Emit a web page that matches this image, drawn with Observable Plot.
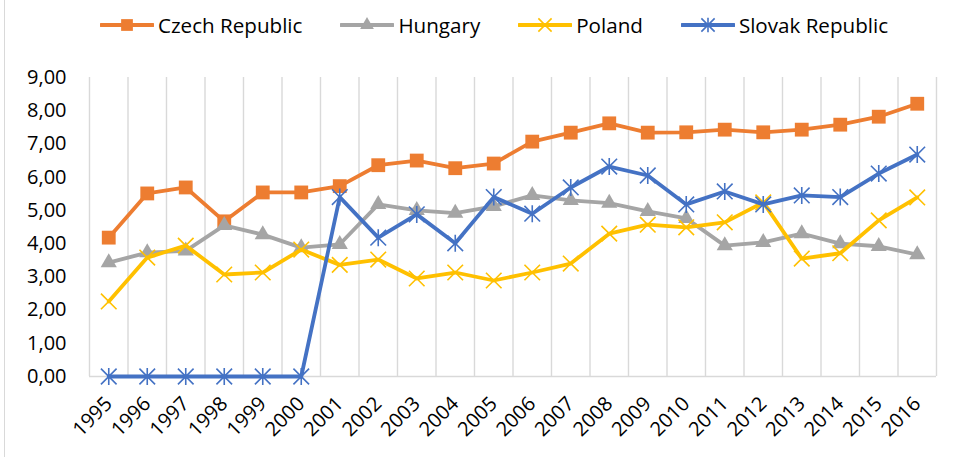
<!DOCTYPE html>
<html>
<head>
<meta charset="utf-8">
<script src="https://cdn.jsdelivr.net/npm/d3@7"></script>
<script src="https://cdn.jsdelivr.net/npm/@observablehq/plot@0.6"></script>
<style>
  html, body { margin: 0; padding: 0; background: #fff; }
  #wrap { position: relative; width: 955px; height: 457px; overflow: hidden; font-family: "Open Sans", sans-serif; }
  #frame { position: absolute; left: 4px; top: 0; width: 1px; height: 457px; background: #D9D9D9; }
  #legend { height: 50px; display: flex; align-items: center; padding-left: 100px; box-sizing: border-box; font-size: 20.6px; color: #000; }
  .item { display: flex; align-items: center; margin-right: 38px; }
  .item svg { margin-right: 4px; }
</style>
</head>
<body>
<div id="wrap">
  <div id="frame"></div>
  <div id="legend"></div>
  <div id="chart"></div>
</div>
<script>
const years = [1995, 1996, 1997, 1998, 1999, 2000, 2001, 2002, 2003, 2004, 2005, 2006, 2007, 2008, 2009, 2010, 2011, 2012, 2013, 2014, 2015, 2016];
const czech   = [4.18, 5.51, 5.69, 4.67, 5.54, 5.54, 5.73, 6.36, 6.50, 6.27, 6.41, 7.07, 7.34, 7.62, 7.34, 7.35, 7.43, 7.35, 7.43, 7.58, 7.82, 8.21];
const hungary = [3.43, 3.73, 3.78, 4.55, 4.27, 3.88, 3.98, 5.18, 5.00, 4.92, 5.12, 5.45, 5.30, 5.22, 4.97, 4.76, 3.94, 4.04, 4.30, 4.00, 3.92, 3.67];
const poland  = [2.26, 3.58, 3.94, 3.07, 3.13, 3.82, 3.36, 3.52, 2.95, 3.13, 2.89, 3.13, 3.40, 4.30, 4.57, 4.49, 4.64, 5.24, 3.55, 3.71, 4.70, 5.39];
const slovak  = [0, 0, 0, 0, 0, 0, 5.40, 4.18, 4.88, 4.01, 5.40, 4.90, 5.69, 6.32, 6.05, 5.18, 5.57, 5.18, 5.45, 5.40, 6.11, 6.68];
const seriesNames = ["Czech Republic", "Hungary", "Poland", "Slovak Republic"];
const seriesColors = ["#ED7D31", "#A5A5A5", "#FFC000", "#4472C4"];
const yTicks = [0, 1, 2, 3, 4, 5, 6, 7, 8, 9];

const star = {
  draw(ctx, size) {
    const r = Math.sqrt(size / Math.PI);
    const d = r * 0.92;
    ctx.moveTo(0, -r); ctx.lineTo(0, r);
    ctx.moveTo(-d, -d); ctx.lineTo(d, d);
    ctx.moveTo(-d, d); ctx.lineTo(d, -d);
  }
};
const cross = {
  draw(ctx, size) {
    const r = Math.sqrt(size / Math.PI) * 0.95;
    ctx.moveTo(-r, -r); ctx.lineTo(r, r);
    ctx.moveTo(-r, r); ctx.lineTo(r, -r);
  }
};
const seriesValues = [czech, hungary, poland, slovak];
const markerSpec = [
  {symbol: "square", r: 7.8, filled: true, sw: 0},
  {symbol: "triangle", r: 6.0, filled: true, sw: 0},
  {symbol: cross, r: 8.2, filled: false, sw: 1.6},
  {symbol: star, r: 8.5, filled: false, sw: 1.6}
];

const bounds = d3.range(years.length + 1).map(i => years[0] - 0.5 + i);

const marks = [
  Plot.ruleX(bounds, {y1: 0, y2: 9, stroke: "#D9D9D9", strokeWidth: 1.4}),
  Plot.ruleY([0], {stroke: "#D9D9D9", strokeWidth: 1.4})
];
seriesNames.forEach((name, k) => {
  const rows = years.map((yr, i) => ({year: yr, value: seriesValues[k][i], name}));
  const m = markerSpec[k];
  marks.push(Plot.line(rows, {x: "year", y: "value", stroke: seriesColors[k], strokeWidth: 3.8, strokeLinejoin: "round", strokeLinecap: "round"}));
  marks.push(Plot.dot(rows, {
    x: "year", y: "value", symbol: () => m.symbol, r: m.r,
    fill: m.filled ? seriesColors[k] : "none",
    stroke: m.filled ? "none" : seriesColors[k],
    strokeWidth: m.sw
  }));
});

const chart = Plot.plot({
  width: 955, height: 407,
  marginLeft: 89, marginRight: 19, marginTop: 27, marginBottom: 81,
  style: {fontFamily: "Open Sans, sans-serif", fontSize: "20px", color: "#000", background: "transparent"},
  x: {domain: [years[0] - 0.5, years[years.length - 1] + 0.5], ticks: years, tickFormat: d => String(d), tickRotate: -45, tickSize: 0, tickPadding: 24, label: null},
  y: {domain: [0, 9], ticks: yTicks, tickFormat: d => d.toFixed(2).replace(".", ","), tickSize: 0, tickPadding: 23, label: null},
  symbol: {type: "identity"},
  marks
});
document.getElementById("chart").appendChild(chart);

// legend
const legend = d3.select("#legend");
seriesNames.forEach((name, k) => {
  const item = legend.append("div").attr("class", "item");
  const svg = item.append("svg").attr("width", 54).attr("height", 22);
  svg.append("line").attr("x1", 1).attr("x2", 53).attr("y1", 11).attr("y2", 11)
    .attr("stroke", seriesColors[k]).attr("stroke-width", 3.8).attr("stroke-linecap", "round");
  const m = markerSpec[k];
  const symType = m.symbol === "square" ? d3.symbolSquare : m.symbol === "triangle" ? d3.symbolTriangle : m.symbol;
  const sz = Math.PI * (m.r * 0.85) ** 2;
  svg.append("path").attr("transform", "translate(27,11)")
    .attr("d", d3.symbol(symType, sz)())
    .attr("fill", m.filled ? seriesColors[k] : "none")
    .attr("stroke", m.filled ? "none" : seriesColors[k])
    .attr("stroke-width", m.sw);
  item.append("span").text(name);
});
</script>
</body>
</html>
